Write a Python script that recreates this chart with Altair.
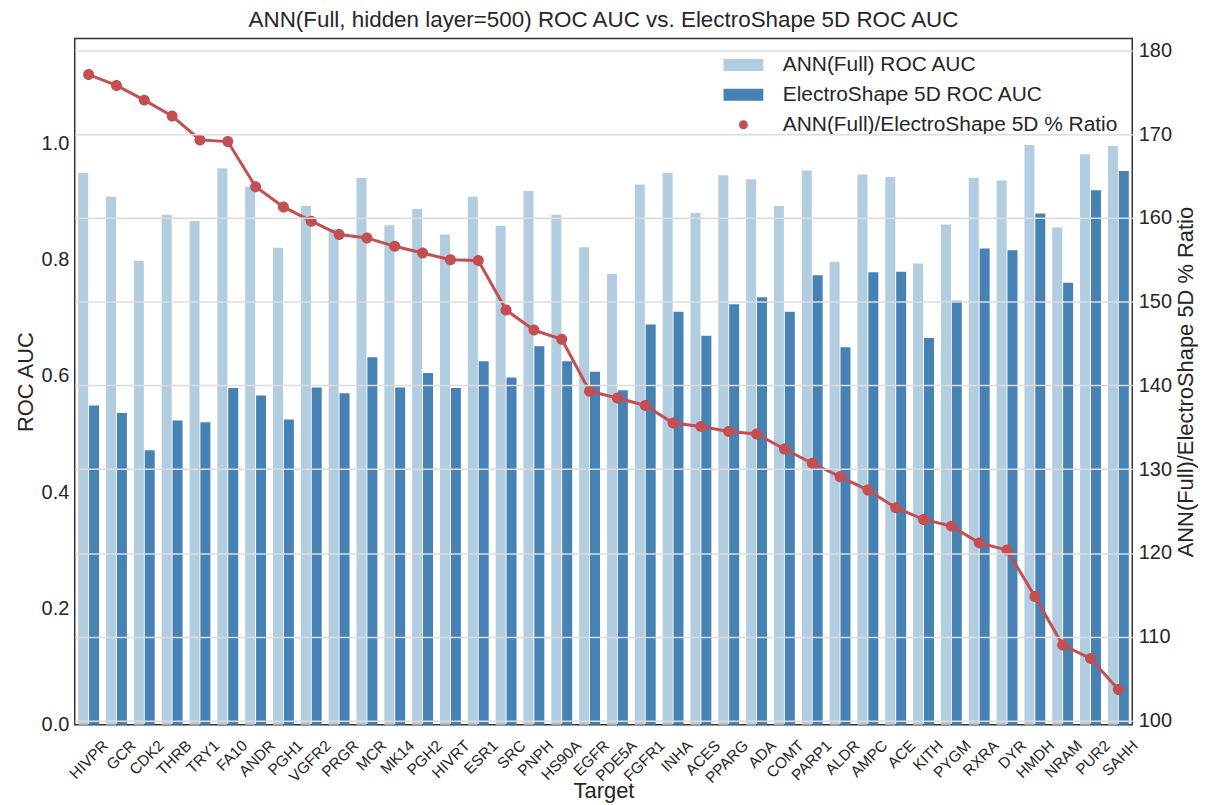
import altair as alt
import pandas as pd

targets = ["HIVPR", "GCR", "CDK2", "THRB", "TRY1", "FA10", "ANDR", "PGH1", "VGFR2", "PRGR",
           "MCR", "MK14", "PGH2", "HIVRT", "ESR1", "SRC", "PNPH", "HS90A", "EGFR", "PDE5A",
           "FGFR1", "INHA", "ACES", "PPARG", "ADA", "COMT", "PARP1", "ALDR", "AMPC", "ACE",
           "KITH", "PYGM", "RXRA", "DYR", "HMDH", "NRAM", "PUR2", "SAHH"]

ann_auc = [0.949, 0.908, 0.798, 0.877, 0.866, 0.957, 0.925, 0.820, 0.892, 0.853,
           0.940, 0.859, 0.887, 0.843, 0.908, 0.858, 0.918, 0.877, 0.821, 0.775,
           0.929, 0.949, 0.880, 0.945, 0.938, 0.892, 0.953, 0.796, 0.946, 0.942,
           0.793, 0.860, 0.940, 0.936, 0.997, 0.855, 0.981, 0.995]

es5d_auc = [0.549, 0.536, 0.472, 0.523, 0.520, 0.579, 0.566, 0.525, 0.580, 0.570,
            0.632, 0.580, 0.605, 0.579, 0.625, 0.597, 0.651, 0.625, 0.607, 0.575,
            0.688, 0.710, 0.669, 0.723, 0.735, 0.710, 0.773, 0.649, 0.778, 0.779,
            0.665, 0.729, 0.819, 0.816, 0.879, 0.760, 0.919, 0.952]

ratio_pct = [177.1, 175.8, 174.05, 172.15, 169.3, 169.1, 163.7, 161.3, 159.6, 158.0,
             157.6, 156.6, 155.8, 155.0, 154.9, 149.0, 146.6, 145.5, 139.3, 138.5,
             137.6, 135.5, 135.1, 134.5, 134.2, 132.4, 130.7, 129.1, 127.5, 125.4,
             124.0, 123.2, 121.2, 120.35, 114.8, 109.0, 107.4, 103.7]

series_names = ["ANN(Full) ROC AUC", "ElectroShape 5D ROC AUC", "ANN(Full)/ElectroShape 5D % Ratio"]
series_colors = ["#b3cde0", "#4682b4", "#c44e52"]
rect_path = "M-2,-0.6H2V0.6H-2Z"
circle_path = "M-0.45,0A0.45,0.45 0 1,0 0.45,0A0.45,0.45 0 1,0 -0.45,0Z"
series_shapes = [rect_path, rect_path, circle_path]

bar_df = pd.DataFrame({
    "Target": targets * 2,
    "series": [series_names[0]] * len(targets) + [series_names[1]] * len(targets),
    "value": ann_auc + es5d_auc,
})
ratio_df = pd.DataFrame({
    "Target": targets,
    "series": [series_names[2]] * len(targets),
    "ratio": ratio_pct,
})

FONT = "Liberation Sans"
TXT = "#262626"

color_scale = alt.Scale(domain=series_names, range=series_colors)
shape_scale = alt.Scale(domain=series_names, range=series_shapes)
legend = alt.Legend(title=None, orient="none", legendX=661, legendY=16,
                    labelFontSize=21, labelColor=TXT, labelFont=FONT, labelLimit=500,
                    symbolSize=400, labelOffset=29, rowPadding=8,
                    symbolStrokeWidth=0, symbolOpacity=1)

x_enc = alt.X("Target:N", sort=targets,
              scale=alt.Scale(paddingInner=0.25, paddingOuter=0.125),
              axis=alt.Axis(title="Target", labelAngle=-45, labelAlign="right",
                            labelBaseline="middle", labelOffset=17, labelPadding=18,
                            labelFontSize=15.5, labelColor=TXT, titleFontSize=22,
                            titleFontWeight="normal", titleColor=TXT,
                            titleBaseline="alphabetic", titleY=73,
                            ticks=False, domain=False, grid=False))

bars = alt.Chart(bar_df).mark_bar().encode(
    x=x_enc,
    xOffset=alt.XOffset("series:N", sort=series_names[:2], scale=alt.Scale(paddingInner=0.08)),
    y=alt.Y("value:Q", scale=alt.Scale(domain=[0, 1.18], nice=False),
            axis=alt.Axis(title="ROC AUC", values=[0, 0.2, 0.4, 0.6, 0.8, 1.0], format=".1f",
                          labelFontSize=20, labelColor=TXT, labelPadding=6,
                          titleFontSize=22, titleFontWeight="normal", titleColor=TXT,
                          titlePadding=4, ticks=False, domain=False, grid=False)),
    color=alt.Color("series:N", scale=color_scale, legend=legend),
)

y_right = alt.Y("ratio:Q", scale=alt.Scale(domain=[99.5, 181.4], nice=False),
                axis=alt.Axis(orient="right", title="ANN(Full)/ElectroShape 5D % Ratio",
                              values=[100, 110, 120, 130, 140, 150, 160, 170, 180],
                              labelFontSize=20, labelColor=TXT, labelPadding=6,
                              titleFontSize=22, titleFontWeight="normal", titleColor=TXT,
                              titleAngle=270, titleBaseline="top", titlePadding=4,
                              ticks=False, domain=False, grid=True,
                              gridColor="#dcdcdc", gridWidth=1.5, zindex=1))

line = alt.Chart(ratio_df).mark_line(color="#c44e52", strokeWidth=3).encode(
    x=alt.X("Target:N", sort=targets),
    y=y_right,
)
points = alt.Chart(ratio_df).mark_point(filled=True, size=600, opacity=1).encode(
    x=alt.X("Target:N", sort=targets),
    y=alt.Y("ratio:Q"),
    color=alt.Color("series:N", scale=color_scale, legend=legend),
    shape=alt.Shape("series:N", scale=shape_scale, legend=legend),
)

chart = alt.layer(bars, alt.layer(line, points)).resolve_scale(y="independent").properties(
    width=1062, height=689,
    autosize=alt.AutoSizeParams(type="none"),
    padding={"left": 67, "top": 29, "right": 66, "bottom": 78},
    title=alt.TitleParams("ANN(Full, hidden layer=500) ROC AUC vs. ElectroShape 5D ROC AUC",
                          fontSize=22.5, fontWeight="normal", color=TXT, font=FONT, offset=7),
).configure(font=FONT).configure_view(stroke="#333333", strokeWidth=1.5)

chart.save("out.html", embed_options={"renderer": "svg", "actions": False})
